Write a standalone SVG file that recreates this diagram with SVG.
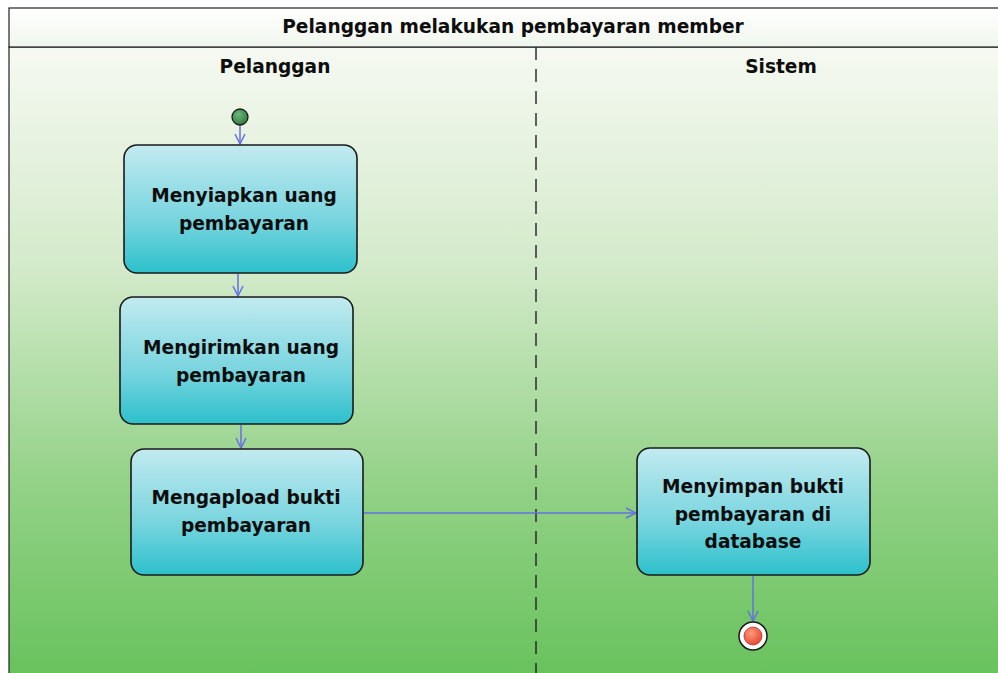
<svg xmlns="http://www.w3.org/2000/svg" width="998" height="673" viewBox="0 0 998 673">
  <defs>
    <linearGradient id="bg" x1="0" y1="0" x2="0" y2="1">
      <stop offset="0" stop-color="#f6f9f2"/>
      <stop offset="0.35" stop-color="#d3eaca"/>
      <stop offset="0.7" stop-color="#92d186"/>
      <stop offset="1" stop-color="#68c25c"/>
    </linearGradient>
    <linearGradient id="titleFill" x1="0" y1="0" x2="0" y2="1">
      <stop offset="0" stop-color="#ffffff"/>
      <stop offset="1" stop-color="#f0f6ec"/>
    </linearGradient>
    <linearGradient id="act" x1="0" y1="0" x2="0" y2="1">
      <stop offset="0" stop-color="#c2eaf0"/>
      <stop offset="0.6" stop-color="#76d4de"/>
      <stop offset="1" stop-color="#2cc0cb"/>
    </linearGradient>
    <radialGradient id="startFill" cx="0.4" cy="0.35" r="0.7">
      <stop offset="0" stop-color="#6fb57a"/>
      <stop offset="1" stop-color="#2b7a3c"/>
    </radialGradient>
    <radialGradient id="endFill" cx="0.4" cy="0.35" r="0.7">
      <stop offset="0" stop-color="#ff9a7a"/>
      <stop offset="1" stop-color="#e2452e"/>
    </radialGradient>
    <marker id="arrow" viewBox="0 0 12 12" refX="11" refY="6" markerWidth="12" markerHeight="12" markerUnits="userSpaceOnUse" orient="auto">
      <path d="M1,1 L11,6 L1,11" fill="none" stroke="#6570e6" stroke-width="1.5"/>
    </marker>
  </defs>
  <style>
    .act { fill: url(#act); stroke: #1a1a1a; stroke-width: 1.6; }
    .lbl { font-family: "DejaVu Sans", "Liberation Sans", Arial, sans-serif; font-weight: bold; font-size: 18.6px; fill: #0d0d0d; text-anchor: middle; }
    .hdr { font-family: "DejaVu Sans", "Liberation Sans", Arial, sans-serif; font-weight: bold; font-size: 18.6px; fill: #0d0d0d; text-anchor: middle; }
    .flow { stroke: #6570e6; stroke-width: 1.5; fill: none; marker-end: url(#arrow); }
  </style>

  <!-- page -->
  <rect x="0" y="0" width="998" height="673" fill="#ffffff"/>
  <!-- swimlane frame -->
  <rect x="9" y="47" width="995" height="630" fill="url(#bg)" stroke="#222" stroke-width="1.2"/>
  <rect x="9" y="8" width="995" height="39" fill="url(#titleFill)" stroke="#222" stroke-width="1.2"/>
  <text class="hdr" x="513" y="33">Pelanggan melakukan pembayaran member</text>
  <text class="hdr" x="275" y="73">Pelanggan</text>
  <text class="hdr" x="781" y="73">Sistem</text>
  <line x1="536" y1="47" x2="536" y2="673" stroke="#222" stroke-width="1.4" stroke-dasharray="13,9"/>

  <!-- connectors -->
  <g id="connectors">
    <line class="flow" x1="240" y1="125" x2="240" y2="144"/>
    <line class="flow" x1="238" y1="274" x2="238" y2="296"/>
    <line class="flow" x1="241" y1="425" x2="241" y2="448"/>
    <line class="flow" x1="364" y1="513" x2="636" y2="513"/>
    <line class="flow" x1="753" y1="576" x2="753" y2="621"/>
  </g>

  <g id="start">
    <circle cx="240" cy="117" r="8" fill="url(#startFill)" stroke="#1a1a1a" stroke-width="1.3"/>
  </g>

  <g id="menyiapkan">
    <rect class="act" x="124" y="145" width="233" height="128" rx="13"/>
    <text class="lbl" x="244" y="202">Menyiapkan uang</text>
    <text class="lbl" x="244" y="230">pembayaran</text>
  </g>

  <g id="mengirimkan">
    <rect class="act" x="120" y="297" width="233" height="127" rx="13"/>
    <text class="lbl" x="241" y="354">Mengirimkan uang</text>
    <text class="lbl" x="241" y="382">pembayaran</text>
  </g>

  <g id="mengapload">
    <rect class="act" x="131" y="449" width="232" height="126" rx="13"/>
    <text class="lbl" x="246" y="504">Mengapload bukti</text>
    <text class="lbl" x="246" y="532">pembayaran</text>
  </g>

  <g id="menyimpan">
    <rect class="act" x="637" y="448" width="233" height="127" rx="13"/>
    <text class="lbl" x="753" y="493">Menyimpan bukti</text>
    <text class="lbl" x="753" y="521">pembayaran di</text>
    <text class="lbl" x="753" y="548">database</text>
  </g>

  <g id="end">
    <circle cx="753" cy="636" r="14" fill="#ffffff" stroke="#1a1a1a" stroke-width="1.5"/>
    <circle cx="753" cy="636" r="9" fill="url(#endFill)" stroke="#b33" stroke-width="0.8"/>
  </g>
</svg>
